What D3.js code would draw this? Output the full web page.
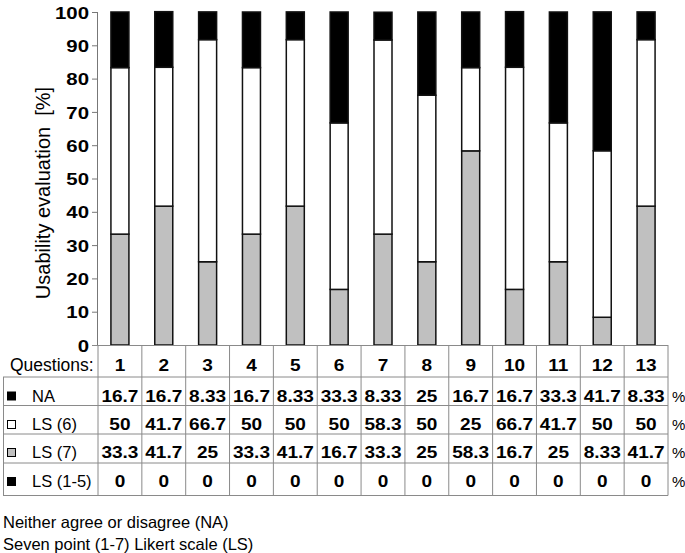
<html>
<head>
<meta charset="utf-8">
<style>
  body { margin: 0; background: #fff; }
  text { font-family: Arial, "Liberation Sans", sans-serif; fill: #000; }
</style>
</head>
<body>
<script src="https://cdnjs.cloudflare.com/ajax/libs/d3/7.8.5/d3.min.js"></script>
<script>
var questions = ["1","2","3","4","5","6","7","8","9","10","11","12","13"];
var na   = [16.7,16.7,8.33,16.7,8.33,33.3,8.33,25,16.7,16.7,33.3,41.7,8.33];
var ls6  = [50,41.7,66.7,50,50,50,58.3,50,25,66.7,41.7,50,50];
var ls7  = [33.3,41.7,25,33.3,41.7,16.7,33.3,25,58.3,16.7,25,8.33,41.7];
var ls15 = [0,0,0,0,0,0,0,0,0,0,0,0,0];
var yTicks = [0,10,20,30,40,50,60,70,80,90,100];

// table rows, top to bottom
var rows = [
  {key: "na",   label: "NA",       fill: "#000", vals: na},
  {key: "ls6",  label: "LS (6)",   fill: "#fff", vals: ls6},
  {key: "ls7",  label: "LS (7)",   fill: "#c0c0c0", vals: ls7},
  {key: "ls15", label: "LS (1-5)", fill: "#000", vals: ls15}
];

var W = 685, H = 553;
var svg = d3.select("body").append("svg")
  .attr("width", W).attr("height", H);

var x = d3.scaleBand().domain(questions).range([98, 668]);
var y = d3.scaleLinear().domain([0, 100]).range([345, 12]);
var barW = 18;

// bold numbers look a bit wider in the original, stretch them
function wide(sel, px, py, sx){
  return sel.attr("transform", function(d, i){
    return "translate(" + px(d, i) + "," + py(d, i) + ") scale(" + sx + ",1)";
  });
}

// stacked bars: bottom LS(1-5), LS(7), LS(6), NA on top
var table = questions.map(function(q, i){
  return {q: q, ls15: ls15[i], ls7: ls7[i], ls6: ls6[i], na: na[i]};
});
var order = ["ls15","ls7","ls6","na"];
var fills = {ls15: "#000", ls7: "#c0c0c0", ls6: "#fff", na: "#000"};
var series = d3.stack().keys(order)(table);

svg.append("g").selectAll("g")
  .data(series).enter().append("g")
  .attr("fill", function(s){ return fills[s.key]; })
  .selectAll("rect")
  .data(function(s){ return s; }).enter().append("rect")
  .attr("x", function(d){ return x(d.data.q) + (x.bandwidth() - barW)/2; })
  .attr("y", function(d){ return y(d[1]); })
  .attr("width", barW)
  .attr("height", function(d){ return y(d[0]) - y(d[1]); })
  .attr("stroke", "#111")
  .attr("stroke-width", 1.5);

// y axis
var yAxis = svg.append("g")
  .attr("transform", "translate(97,0)")
  .call(d3.axisLeft(y).tickValues(yTicks).tickSize(5).tickPadding(4));
yAxis.select(".domain").attr("stroke", "#777").attr("d", "M0.5,12V345");
yAxis.selectAll(".tick line").attr("stroke", "#777");
yAxis.selectAll(".tick text")
  .style("font-family", "Arial, 'Liberation Sans', sans-serif")
  .style("font-size", "17px").style("font-weight", "bold")
  .attr("x", null).attr("dy", "0.36em")
  .attr("transform", "translate(-8,0) scale(1.2,1)");

svg.append("text")
  .attr("transform", "translate(50,193) rotate(-90)")
  .attr("text-anchor", "middle")
  .style("font-size", "20px")
  .style("white-space", "pre")
  .text("Usability evaluation  [%]");

// table grid
var lineCol = "#8a8a8a";
var rowY = [345, 377, 405.5, 434, 463, 495.5];
var grid = svg.append("g").attr("stroke", lineCol).attr("stroke-width", 1);
grid.append("line").attr("x1", 92).attr("x2", 668).attr("y1", 345.5).attr("y2", 345.5);
rowY.slice(1).forEach(function(ry){
  grid.append("line").attr("x1", 3).attr("x2", 668).attr("y1", ry).attr("y2", ry);
});
grid.append("line").attr("x1", 3.5).attr("x2", 3.5).attr("y1", 377).attr("y2", 495.5);
questions.forEach(function(q){
  grid.append("line").attr("x1", x(q)).attr("x2", x(q)).attr("y1", 345).attr("y2", 495.5);
});
grid.append("line").attr("x1", 668).attr("x2", 668).attr("y1", 345).attr("y2", 495.5);

// header
svg.append("text").attr("x", 10).attr("y", 371)
  .style("font-size", "17.5px").text("Questions:");
wide(svg.append("g").selectAll("text").data(questions).enter().append("text")
  .attr("text-anchor", "middle")
  .style("font-size", "17px").style("font-weight", "bold")
  .text(function(q){ return q; }),
  function(q){ return x(q) + x.bandwidth()/2; }, function(){ return 371; }, 1.12);

// data rows
var baseY = [401.5, 430, 458, 487];
rows.forEach(function(r, ri){
  var by = baseY[ri];
  svg.append("rect").attr("x", 7.5).attr("y", by - 9.5).attr("width", 8).attr("height", 8)
    .attr("fill", r.fill).attr("stroke", "#000").attr("stroke-width", 1);
  svg.append("text").attr("x", 32).attr("y", by)
    .style("font-size", "16.5px").text(r.label);
  wide(svg.append("g").selectAll("text").data(r.vals).enter().append("text")
    .attr("text-anchor", "middle")
    .style("font-size", "17px").style("font-weight", "bold")
    .text(function(v){ return v; }),
    function(v, i){ return x(questions[i]) + x.bandwidth()/2; }, function(){ return by; }, 1.12);
  svg.append("text").attr("x", 672).attr("y", by)
    .style("font-size", "15px").text("%");
});

// notes
svg.append("text").attr("x", 3).attr("y", 528)
  .style("font-size", "16.5px").text("Neither agree or disagree (NA)");
svg.append("text").attr("x", 3).attr("y", 550)
  .style("font-size", "16.5px").text("Seven point (1-7) Likert scale (LS)");
</script>
</body>
</html>
